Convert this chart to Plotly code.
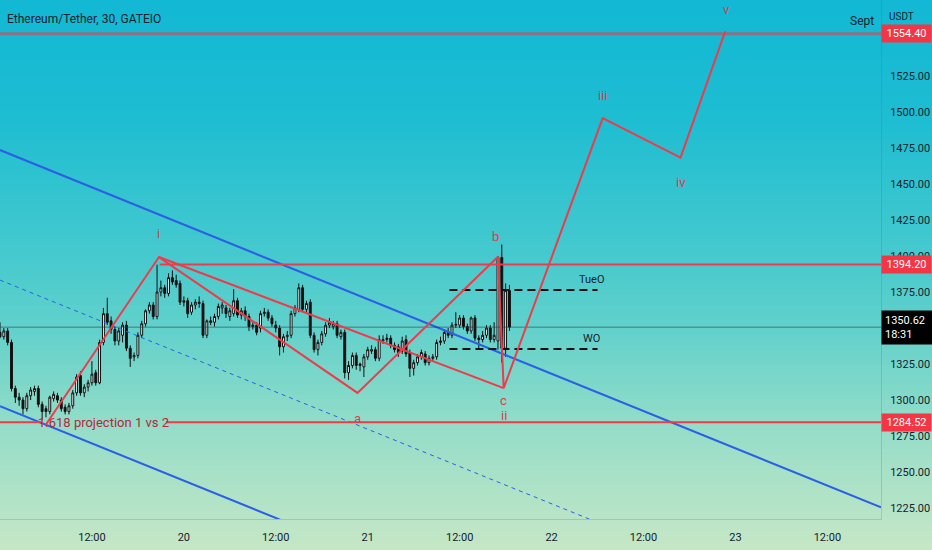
import plotly.graph_objects as go
import pandas as pd

# ---------------- data ----------------
chart_title = "Ethereum/Tether, 30, GATEIO"
start_time = "2022-09-19 00:00"

opens = [1347,1344,1348,1340,1308,1302,1300,1294,1303,1306,
         1308,1297,1294,1292,1301,1303,1300,1295,1292,1296,
         1305,1317,1305,1309,1312,1319,1312,1340,1360,1355,
         1349,1341,1345,1352,1336,1330,1331,1345,1353,1362,
         1366,1358,1375,1378,1374,1385,1383,1381,1369,1369,
         1361,1366,1367,1367,1345,1355,1354,1358,1364,1364,
         1358,1360,1369,1359,1362,1358,1351,1352,1350,1360,
         1361,1357,1352,1350,1337,1344,1345,1360,1363,1378,
         1363,1368,1345,1335,1340,1346,1352,1351,1353,1344,
         1347,1319,1324,1331,1324,1323,1330,1334,1335,1329,
         1341,1342,1343,1338,1337,1334,1342,1333,1322,1326,
         1330,1332,1326,1329,1330,1340,1341,1347,1345,1352,
         1352,1357,1351,1348,1357,1343,1342,1345,1350,1342,
         1341,1399,1336,1376]
highs = [1354,1350,1350,1342,1310,1305,1302,1305,1309,1310,
         1310,1299,1296,1303,1306,1305,1302,1297,1298,1307,
         1318,1320,1311,1314,1327,1321,1342,1364,1371,1358,
         1351,1350,1354,1355,1338,1333,1347,1355,1363,1368,
         1368,1394,1383,1380,1388,1390,1387,1383,1372,1371,
         1368,1370,1372,1369,1356,1358,1360,1367,1368,1366,
         1364,1377,1371,1364,1365,1360,1354,1354,1362,1364,
         1363,1359,1355,1352,1346,1348,1362,1366,1381,1380,
         1369,1370,1347,1342,1348,1354,1357,1355,1355,1349,
         1349,1327,1333,1333,1326,1332,1337,1338,1337,1345,
         1345,1346,1345,1340,1339,1344,1345,1335,1328,1332,
         1335,1334,1331,1332,1342,1344,1349,1350,1354,1361,
         1359,1359,1353,1358,1359,1345,1348,1352,1352,1354,
         1400,1408,1381,1380]
lows = [1343,1342,1338,1306,1298,1296,1290,1292,1300,1303,
        1295,1286,1288,1290,1299,1298,1292,1290,1290,1294,
        1303,1303,1302,1306,1310,1310,1311,1338,1352,1346,
        1338,1338,1340,1334,1323,1327,1329,1343,1351,1360,
        1356,1356,1372,1371,1372,1380,1378,1366,1365,1357,
        1359,1363,1364,1343,1343,1352,1351,1356,1360,1357,
        1355,1358,1357,1356,1355,1348,1349,1345,1347,1358,
        1355,1351,1347,1331,1333,1341,1343,1358,1361,1361,
        1360,1343,1333,1331,1338,1344,1350,1349,1343,1342,
        1315,1314,1322,1321,1320,1316,1328,1332,1327,1327,
        1339,1340,1336,1333,1330,1332,1330,1316,1317,1324,
        1328,1324,1324,1327,1328,1338,1339,1343,1343,1350,
        1350,1349,1346,1346,1341,1336,1340,1343,1340,1340,
        1335,1326,1330,1348]
closes = [1344,1348,1340,1308,1302,1300,1294,1303,1307,1308,
          1297,1292,1292,1302,1304,1300,1294,1292,1296,1305,
          1316,1305,1309,1312,1318,1312,1340,1360,1354,1349,
          1341,1348,1352,1336,1329,1331,1345,1353,1362,1366,
          1358,1375,1378,1374,1385,1382,1380,1368,1368,1360,
          1366,1368,1368,1345,1355,1354,1358,1365,1366,1360,
          1362,1369,1359,1362,1358,1351,1352,1347,1360,1361,
          1357,1353,1350,1337,1344,1345,1360,1364,1378,1363,
          1367,1345,1335,1340,1346,1352,1354,1353,1345,1347,
          1319,1324,1331,1324,1325,1330,1335,1335,1329,1342,
          1342,1343,1338,1335,1333,1341,1332,1322,1326,1330,
          1333,1326,1329,1330,1340,1341,1347,1345,1352,1352.5,
          1357,1351,1348,1357,1343,1342,1345,1350,1342,1345,
          1399,1336,1376,1350.62]

# Elliott wave drawing (start, i, a, b, c, iii, iv, v)
wave_times = ["2022-09-19 06:00", "2022-09-19 20:45", "2022-09-20 22:40", "2022-09-21 17:00",
              "2022-09-21 17:45", "2022-09-22 06:40", "2022-09-22 16:50", "2022-09-22 22:40"]
wave_prices = [1283.0, 1399.3, 1305.0, 1399.5, 1308.3, 1495.8, 1468.4, 1556.0]
wedge_times = ["2022-09-19 20:45", "2022-09-21 17:45"]
wedge_prices = [1399.3, 1308.3]

wave_labels = ["i", "a", "b", "c", "ii", "iii", "iv", "v"]
wave_label_times = ["2022-09-19 20:45", "2022-09-20 22:40", "2022-09-21 16:40", "2022-09-21 17:45",
                    "2022-09-21 17:45", "2022-09-22 06:40", "2022-09-22 16:50", "2022-09-22 22:50"]
wave_label_prices = [1416.0, 1287.5, 1413.9, 1299.8, 1289.6, 1511.8, 1451.4, 1571.5]

# blue channel (start / end points)
channel_times = ["2022-09-19 00:00", "2022-09-23 19:00"]
channel_upper = [1473.6, 1225.5]
channel_middle = [1383.3, 1135.2]
channel_lower = [1295.8, 1047.7]

# horizontal levels
level_top = 1554.40
level_mid = 1394.20
level_low = 1284.52
last_price = 1350.62
countdown = "18:31"
level_low_segments = [["2022-09-19 00:00", "2022-09-19 05:20"], ["2022-09-19 21:40", "2022-09-23 19:00"]]
level_mid_start = "2022-09-19 20:50"
projection_label = "1.618 projection 1 vs 2"
projection_label_time = "2022-09-19 13:30"

# session opens (dashed)
open_times = ["2022-09-21 10:40", "2022-09-22 06:00"]
tue_open = 1376.4
week_open = 1335.4
open_label_time = "2022-09-22 05:15"

x_range = ["2022-09-19 00:00", "2022-09-23 19:00"]
y_range = [1217.4, 1577.8]
x_tick_vals = ["2022-09-19 00:00", "2022-09-19 12:00", "2022-09-20 00:00", "2022-09-20 12:00",
               "2022-09-21 00:00", "2022-09-21 12:00", "2022-09-22 00:00", "2022-09-22 12:00",
               "2022-09-23 00:00", "2022-09-23 12:00"]
x_tick_text = ["19", "12:00", "20", "12:00", "21", "12:00", "22", "12:00", "23", "12:00"]
y_tick_vals = [1225, 1250, 1275, 1300, 1325, 1375, 1400, 1425, 1450, 1475, 1500, 1525]
y_tick_text = ["%.2f" % v for v in y_tick_vals]

# ---------------- style ----------------
FONT = "Roboto, Liberation Sans, sans-serif"
RED = "#ef3a4a"
BLUE = "#2a5fe6"
TEXT = "#14222e"
W, H = 932, 550
ML, MR, MT, MB = 0, 51, 0, 31
PW, PH = W - ML - MR, H - MT - MB

times = pd.date_range(start_time, periods=len(closes), freq="30min")

fig = go.Figure()

# background gradient bands (paper coords covering whole figure)
grad_stops = [(0, (18, 184, 212)), (120, (30, 189, 210)), (250, (68, 201, 206)),
              (330, (98, 209, 203)), (430, (150, 221, 200)), (550, (198, 231, 198))]


def grad_color(p):
    for (p0, c0), (p1, c1) in zip(grad_stops[:-1], grad_stops[1:]):
        if p0 <= p <= p1:
            t = (p - p0) / (p1 - p0)
            return "rgb(%d,%d,%d)" % tuple(round(a + (b - a) * t) for a, b in zip(c0, c1))
    return "rgb(%d,%d,%d)" % grad_stops[-1][1]


shapes = []
step = 5
for p in range(0, H, step):
    shapes.append(dict(type="rect", xref="paper", yref="paper", layer="below",
                       x0=-0.01, x1=W / PW + 0.01,
                       y0=(PH - (p + step + 0.5)) / PH, y1=(PH - p) / PH,
                       fillcolor=grad_color(p + step / 2), line=dict(width=0)))


def seg(xs, ys, color, width, dash=None):
    fig.add_trace(go.Scatter(x=xs, y=ys, mode="lines", hoverinfo="skip", showlegend=False,
                             line=dict(color=color, width=width, dash=dash)))


# channel
seg(channel_times, channel_upper, BLUE, 2)
seg(channel_times, channel_lower, BLUE, 2)
seg(channel_times, channel_middle, BLUE, 1, "4px,4px")

# last price line
seg(x_range, [last_price, last_price], "rgba(40,50,60,0.55)", 1)

# horizontal levels
seg(x_range, [level_top, level_top], "rgba(242,54,69,0.55)", 3)
seg([level_mid_start, x_range[1]], [level_mid, level_mid], RED, 2)
for s in level_low_segments:
    seg(s, [level_low, level_low], RED, 2)

# dashed session opens
seg(open_times, [tue_open, tue_open], "#111111", 2, "8px,5px")
seg(open_times, [week_open, week_open], "#111111", 2, "8px,5px")

# candles
fig.add_trace(go.Candlestick(
    x=times, open=opens, high=highs, low=lows, close=closes,
    increasing=dict(line=dict(color="#111111", width=1), fillcolor="#ffffff"),
    decreasing=dict(line=dict(color="#111111", width=1), fillcolor="#111111"),
    whiskerwidth=0, showlegend=False, hoverinfo="skip"))

# wave lines
seg(wave_times, wave_prices, RED, 2)
seg(wedge_times, wedge_prices, RED, 2)

annotations = []
for lab, t, p in zip(wave_labels, wave_label_times, wave_label_prices):
    annotations.append(dict(x=t, y=p, xref="x", yref="y", text=lab, showarrow=False,
                            font=dict(family=FONT, size=13, color="#d8404f")))

annotations.append(dict(x=projection_label_time, y=level_low, xref="x", yref="y",
                        text=projection_label, showarrow=False,
                        font=dict(family=FONT, size=13, color="#b3283a")))
annotations.append(dict(x=open_label_time, y=tue_open + 7.5, xref="x", yref="y", text="TueO",
                        showarrow=False, font=dict(family=FONT, size=11, color=TEXT)))
annotations.append(dict(x=open_label_time, y=week_open + 7.5, xref="x", yref="y", text="WO",
                        showarrow=False, font=dict(family=FONT, size=11, color=TEXT)))
annotations.append(dict(x=1, y=1, xref="paper", yref="paper", xanchor="right", yanchor="top",
                        xshift=-5, yshift=-12, text="Sept", showarrow=False,
                        font=dict(family=FONT, size=12, color=TEXT)))
annotations.append(dict(x=0, y=1, xref="paper", yref="paper", xanchor="left", yanchor="top",
                        xshift=5, yshift=-10, text=chart_title, showarrow=False,
                        font=dict(family=FONT, size=12, color=TEXT)))
annotations.append(dict(x=1, y=1, xref="paper", yref="paper", xanchor="left", yanchor="top",
                        xshift=6, yshift=-9, text="USDT", showarrow=False,
                        font=dict(family=FONT, size=10, color=TEXT)))

for p in [level_top, level_mid, level_low]:
    annotations.append(dict(x=1, y=p, xref="paper", yref="y", xanchor="left", yanchor="middle",
                            text="%.2f" % p, showarrow=False, bgcolor="#f23645", borderpad=2,
                            width=45, align="center",
                            font=dict(family=FONT, size=11, color="#ffffff")))
annotations.append(dict(x=1, y=last_price, xref="paper", yref="y", xanchor="left",
                        yanchor="middle", text="%.2f<br>%s" % (last_price, countdown),
                        showarrow=False, bgcolor="#000000", borderpad=3, width=45, align="left",
                        font=dict(family=FONT, size=11, color="#ffffff")))

fig.update_layout(
    width=W, height=H, autosize=False,
    margin=dict(l=ML, r=MR, t=MT, b=MB),
    paper_bgcolor="rgb(198,231,198)", plot_bgcolor="rgba(0,0,0,0)",
    shapes=shapes, annotations=annotations, showlegend=False,
    font=dict(family=FONT, color=TEXT),
    xaxis=dict(type="date", range=x_range, rangeslider=dict(visible=False),
               tickvals=x_tick_vals, ticktext=x_tick_text, showgrid=False, zeroline=False,
               ticks="outside", ticklen=8, tickcolor="rgba(0,0,0,0)",
               tickfont=dict(family=FONT, size=11, color=TEXT),
               showline=True, linecolor="rgba(80,110,110,0.25)", linewidth=1),
    yaxis=dict(side="right", range=y_range, tickvals=y_tick_vals, ticktext=y_tick_text,
               showgrid=False, zeroline=False, ticks="outside", ticklen=6,
               tickcolor="rgba(0,0,0,0)", tickfont=dict(family=FONT, size=11, color=TEXT),
               showline=True, linecolor="rgba(80,110,110,0.25)", linewidth=1),
)

fig.write_html("out.html", config={"displayModeBar": False},
               post_script="document.body.style.margin='0px';")
